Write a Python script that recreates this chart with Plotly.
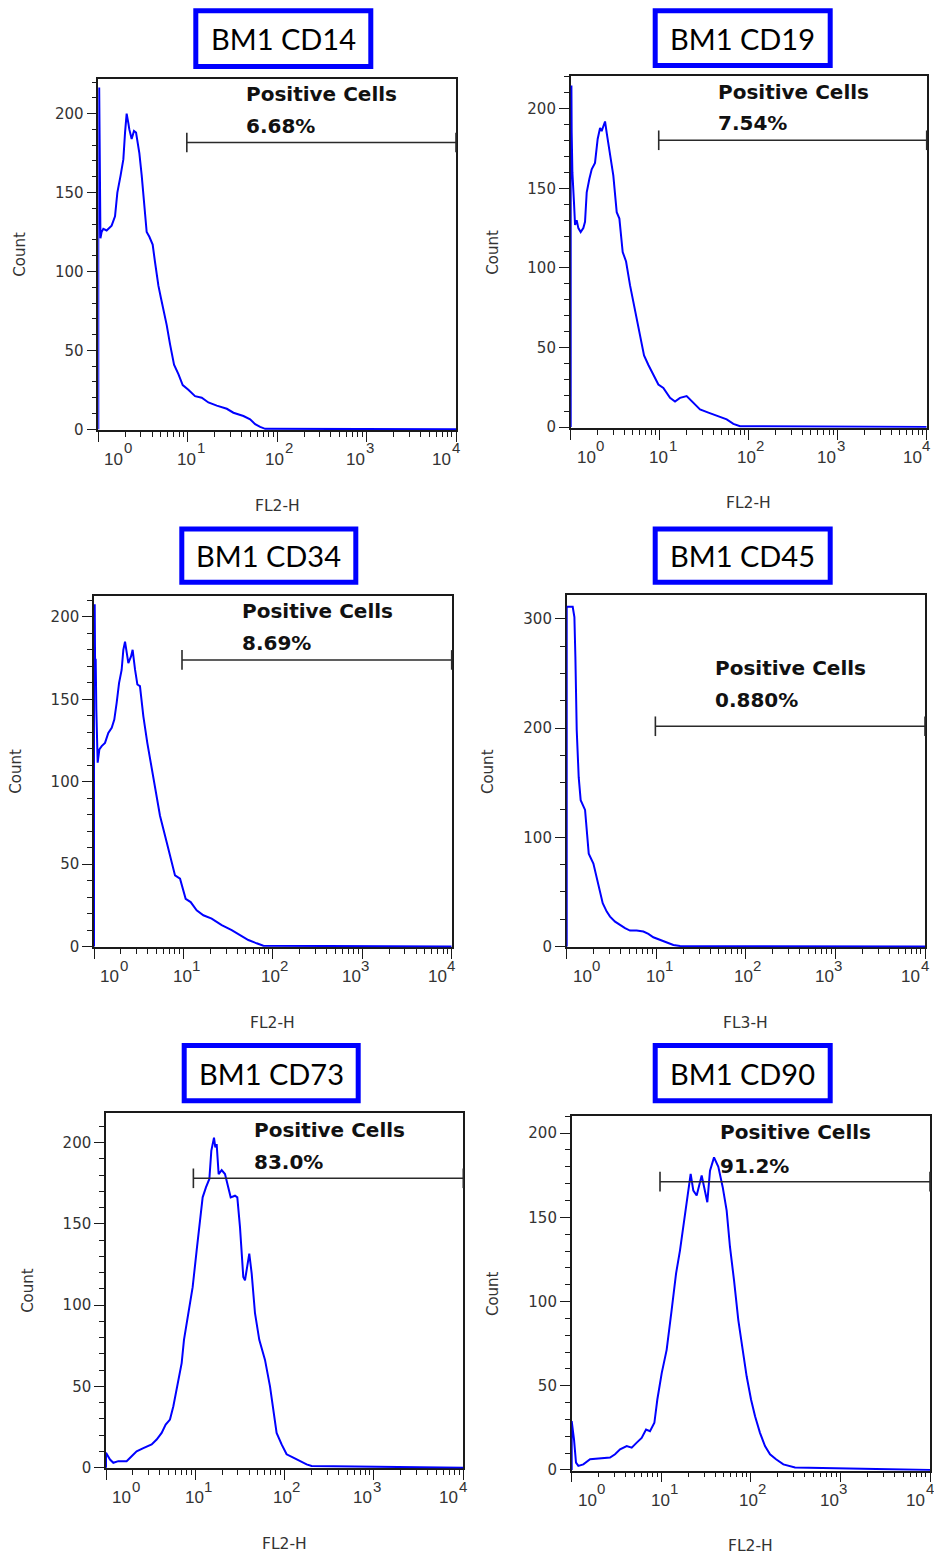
import numpy as np
import plotly.graph_objects as go

W, H = 934, 1566

# ---- data -------------------------------------------------------------
titles = ["BM1 CD14", "BM1 CD19", "BM1 CD34", "BM1 CD45", "BM1 CD73", "BM1 CD90"]
channels = ["FL2-H", "FL2-H", "FL2-H", "FL3-H", "FL2-H", "FL2-H"]
positive = ["6.68%", "7.54%", "8.69%", "0.880%", "83.0%", "91.2%"]
gate_name = "Positive Cells"

# histogram outlines: decade position (log10 of intensity) and event count
cd14_dec = [0, 0, 0.010, 0.012, 0.020, 0.024, 0.037, 0.056, 0.093, 0.149, 0.187, 0.213,
            0.250, 0.280, 0.299, 0.317, 0.336, 0.347, 0.373, 0.399, 0.422, 0.459, 0.485,
            0.511, 0.541, 0.571, 0.608, 0.634, 0.672, 0.701, 0.735, 0.765, 0.802, 0.847,
            0.896, 0.944, 1.007, 1.082, 1.157, 1.231, 1.325, 1.437, 1.511, 1.623, 1.698,
            1.754, 1.810, 1.866, 4.0]
cd14_cnt = [0, 216, 216, 184, 184, 121, 125, 127, 126, 129, 135, 150,
            161, 171, 188, 200, 194, 190, 184, 189, 188, 175, 161,
            142, 125, 122, 117, 106, 91, 83, 75, 66, 54, 41,
            35, 28, 25, 21, 20, 17, 15, 13, 10.5, 8.4, 6.3,
            3.2, 1.5, 0.3, 0]

cd19_dec = [0, 0, 0.008, 0.011, 0.019, 0.037, 0.049, 0.067, 0.086, 0.112, 0.142, 0.161,
            0.180, 0.210, 0.236, 0.273, 0.303, 0.330, 0.348, 0.367, 0.386, 0.404, 0.442,
            0.479, 0.517, 0.547, 0.584, 0.622, 0.667, 0.723, 0.760, 0.824, 0.873, 0.929,
            0.985, 1.041, 1.116, 1.172, 1.228, 1.303, 1.378, 1.453, 1.547, 1.659, 1.753,
            1.828, 1.903, 4.0]
cd19_cnt = [0, 214, 214, 185, 160, 141, 127, 130, 125, 122.5, 125, 129,
            147.5, 156, 162, 166, 181, 188, 186, 189, 192, 185, 170,
            158, 135, 131, 110, 104, 89, 72.5, 64, 45, 39, 33,
            26.7, 24.6, 18.3, 16, 18.3, 19.4, 15.2, 11, 9, 6.9, 4.8,
            2, 0.5, 0]

cd34_dec = [0, 0, 0.008, 0.012, 0.019, 0.026, 0.041, 0.060, 0.086, 0.123, 0.160, 0.198,
            0.227, 0.253, 0.280, 0.309, 0.328, 0.347, 0.384, 0.414, 0.432, 0.459, 0.485,
            0.514, 0.552, 0.596, 0.645, 0.693, 0.738, 0.813, 0.857, 0.906, 0.962, 1.025,
            1.081, 1.148, 1.223, 1.316, 1.428, 1.540, 1.633, 1.726, 1.819, 1.894, 4.0]
cd34_cnt = [0, 207, 207, 174, 174, 143.7, 111.6, 119.6, 121.6, 123.6, 129.6, 132.7,
            137.7, 147.7, 159.8, 167.8, 180, 185, 172, 176, 180, 168, 159,
            158, 139.7, 123.6, 107.5, 93.5, 79.4, 63.3, 53.3, 43.2, 41.2, 29,
            27, 22, 19, 17, 13, 10, 7, 4, 2, 0.5, 0]

cd45_dec = [0, 0, 0.067, 0.086, 0.097, 0.112, 0.134, 0.156, 0.205, 0.246, 0.298, 0.353,
            0.402, 0.447, 0.484, 0.540, 0.595, 0.651, 0.707, 0.781, 0.856, 0.912, 0.967,
            1.042, 1.116, 1.191, 1.265, 4.0]
cd45_cnt = [0, 311, 311, 301.5, 265, 198, 155, 134, 125, 85, 76, 58,
            39.6, 32, 27.4, 22.8, 19.8, 16.8, 14.6, 14.6, 13.7, 11.6, 8.5,
            6.1, 3.7, 1.5, 0.5, 0]

cd73_dec = [0, 0, 0.045, 0.082, 0.138, 0.231, 0.287, 0.343, 0.418, 0.511, 0.567, 0.623,
            0.668, 0.716, 0.754, 0.799, 0.847, 0.873, 0.922, 0.970, 1.015, 1.052, 1.082,
            1.119, 1.157, 1.179, 1.209, 1.224, 1.239, 1.261, 1.295, 1.332, 1.366, 1.396,
            1.444, 1.470, 1.500, 1.537, 1.556, 1.582, 1.604, 1.631, 1.668, 1.716, 1.780,
            1.836, 1.881, 1.910, 1.966, 2.022, 2.097, 2.172, 2.246, 2.302, 4.0]
cd73_cnt = [0, 9.2, 5, 3, 4, 4, 7, 10, 12, 14.3, 17.3, 21.4,
            26.5, 29.6, 37.8, 50, 64.3, 78.6, 95, 111, 133.7, 152, 166.3,
            172.4, 177.6, 194.9, 203, 197, 199, 180.6, 183, 180.6, 172.4, 166.3,
            167.3, 166.3, 148, 117.3, 115.3, 125.5, 131.6, 119.4, 95, 78.6, 66.3,
            50, 31.6, 21.4, 14.3, 8.2, 6.1, 4, 2, 1, 0]

cd90_dec = [0, 0, 0.026, 0.048, 0.074, 0.130, 0.205, 0.316, 0.428, 0.484, 0.540, 0.614,
            0.670, 0.726, 0.781, 0.830, 0.874, 0.923, 0.956, 1.005, 1.060, 1.116, 1.165,
            1.209, 1.247, 1.284, 1.328, 1.358, 1.395, 1.451, 1.488, 1.514, 1.544, 1.589,
            1.637, 1.686, 1.730, 1.767, 1.812, 1.860, 1.909, 1.953, 2.002, 2.047, 2.102,
            2.158, 2.214, 2.281, 2.363, 2.419, 2.493, 4.0]
cd90_cnt = [0, 29, 18, 4.3, 2.4, 3.3, 6.3, 6.7, 7.3, 9.3, 12.2, 14.2,
            13.2, 16.2, 19, 24, 23, 28, 41.8, 57.5, 71.3, 95, 116.6,
            130.4, 144.2, 158, 175.8, 165.9, 163, 174.8, 165.9, 159, 177.7, 185.6,
            180, 167.9, 154, 132.4, 112.7, 89, 71.3, 55.6, 41.8, 31.9, 22,
            14.2, 9.3, 6.3, 3.3, 2.4, 1.4, 0]

decades = [cd14_dec, cd19_dec, cd34_dec, cd45_dec, cd73_dec, cd90_dec]
counts = [cd14_cnt, cd19_cnt, cd34_cnt, cd45_cnt, cd73_cnt, cd90_cnt]

# marker gate: lower bound (intensity, upper bound is full scale) and level drawn
gate_low = [9.77, 9.75, 9.64, 9.77, 9.51, 9.68]
gate_level = [181.7, 180.2, 173.9, 201.6, 178.0, 171.2]

x_decade_vals = [1, 10, 100, 1000, 10000]
x_exponents = ["0", "1", "2", "3", "4"]

# ---- layout -----------------------------------------------------------
# plot frames in pixels: left, right, top, bottom
plot_px = [(98.3, 456.0, 79.0, 432.3), (570.7, 926.7, 76.7, 430.0),
           (94.0, 451.7, 599.0, 952.3), (566.7, 925.0, 598.3, 952.3),
           (106.0, 463.3, 1119.0, 1476.0), (571.7, 930.0, 1121.7, 1478.3)]
# title boxes in pixels (outer edge): left, right, top, bottom
box_px = [(193.3, 373.3, 8.3, 69.3), (652.7, 832.7, 8.3, 68.3),
          (179.3, 358.3, 529.3, 587.7), (652.7, 832.7, 529.3, 587.7),
          (181.7, 360.7, 1048.3, 1109.0), (652.7, 832.7, 1048.3, 1109.0)]
y_ranges = [[-0.5, 222.2], [-0.5, 220.4], [-0.5, 212.7], [-0.8, 321.5], [-0.5, 218.0], [-0.5, 210.2]]
y_major = [50, 50, 50, 100, 50, 50]
y_minor = [10, 10, 10, 25, 10, 10]
label_y = [212.6, 210.6, 203.6, 255.0, 208.0, 200.4]
pct_y = [192.0, 190.8, 183.9, 225.4, 187.8, 180.7]
label_dec = 1.63
# right end of the "10" part of each decade label relative to its tick (px)
dec_label_end = [25.0, 8.5, 7.0, -1.5, -5.0]

minor_x = [m * 10 ** d for d in range(4) for m in range(2, 10)]

AX = "#1a1a1a"
TXT = "#333333"
CURVE = "#0000ff"
GATE = "#2a2a2a"
BOX = "#0000ff"

fig = go.Figure()
layout = dict(width=W, height=H, margin=dict(l=0, r=0, t=0, b=0),
              paper_bgcolor="white", plot_bgcolor="white", showlegend=False)
annotations = []
shapes = []

for i in range(6):
    n = i + 1
    xa = "x" if n == 1 else f"x{n}"
    ya = "y" if n == 1 else f"y{n}"
    x0, x1, y0, y1 = plot_px[i]

    fig.add_trace(go.Scatter(
        x=10 ** np.array(decades[i]), y=counts[i], mode="lines",
        line=dict(color=CURVE, width=2), xaxis=xa, yaxis=ya, hoverinfo="skip"))
    fig.add_trace(go.Scatter(
        x=[gate_low[i], 10000], y=[gate_level[i], gate_level[i]], mode="lines+markers",
        line=dict(color=GATE, width=1.5),
        marker=dict(symbol="line-ns-open", size=14, line=dict(color=GATE, width=1.6)),
        cliponaxis=False, xaxis=xa, yaxis=ya, hoverinfo="skip"))

    common = dict(showline=True, linecolor=AX, linewidth=1.5, mirror=True,
                  ticks="outside", tickcolor=AX, tickwidth=1.3, ticklen=10,
                  showgrid=False, zeroline=False, layer="below traces", fixedrange=True)
    layout["xaxis" if n == 1 else f"xaxis{n}"] = dict(
        domain=[x0 / W, x1 / W], anchor=ya, type="log", range=[0, 4],
        tickmode="array", tickvals=x_decade_vals, showticklabels=False,
        minor=dict(tickmode="array", tickvals=minor_x, ticks="outside", ticklen=5,
                   tickcolor=AX, tickwidth=1.2),
        **common)
    layout["yaxis" if n == 1 else f"yaxis{n}"] = dict(
        domain=[1 - y1 / H, 1 - y0 / H], anchor=xa, range=y_ranges[i],
        tickmode="linear", tick0=0, dtick=y_major[i],
        minor=dict(tickmode="linear", tick0=0, dtick=y_minor[i], ticks="outside",
                   ticklen=5, tickcolor=AX, tickwidth=1.2),
        tickfont=dict(family="DejaVu Sans", size=15, color=TXT),
        ticklabelstandoff=0, **common)

    # decade labels 10^n with a near full-size exponent
    for d in range(5):
        annotations.append(dict(
            text="10", xref=xa, x=d, yref=f"{ya} domain", y=0,
            xanchor="right", yanchor="middle", xshift=dec_label_end[d], yshift=-29.4,
            borderpad=0, borderwidth=0, showarrow=False,
            font=dict(family="Liberation Sans", size=17, color=TXT)))
        annotations.append(dict(
            text=x_exponents[d], xref=xa, x=d, yref=f"{ya} domain", y=0,
            xanchor="left", yanchor="middle", xshift=dec_label_end[d] + 0.5, yshift=-17.7,
            borderpad=0, borderwidth=0, showarrow=False,
            font=dict(family="Liberation Sans", size=15, color=TXT)))

    annotations.append(dict(
        text="Count", xref=f"{xa} domain", x=0, xshift=-78, yref=f"{ya} domain", y=0.5,
        textangle=-90, xanchor="center", yanchor="middle", showarrow=False,
        font=dict(family="DejaVu Sans", size=15, color=TXT)))
    annotations.append(dict(
        text=channels[i], xref=f"{xa} domain", x=0.5, yref=f"{ya} domain", y=0,
        yshift=-75.5, xanchor="center", yanchor="middle", showarrow=False,
        font=dict(family="DejaVu Sans", size=15.5, color=TXT)))

    # gate annotation
    annotations.append(dict(
        text=gate_name, xref=xa, x=label_dec, yref=ya, y=label_y[i],
        xanchor="left", yanchor="middle", showarrow=False,
        font=dict(family="DejaVu Sans", size=20, color="#111111", weight="bold")))
    annotations.append(dict(
        text=positive[i], xref=xa, x=label_dec, yref=ya, y=pct_y[i],
        xanchor="left", yanchor="middle", showarrow=False,
        font=dict(family="DejaVu Sans", size=20, color="#111111", weight="bold")))

    # title box
    bx0, bx1, by0, by1 = box_px[i]
    shapes.append(dict(type="rect", xref="paper", yref="paper",
                       x0=(bx0 + 2.5) / W, x1=(bx1 - 2.5) / W,
                       y0=1 - (by1 - 2.5) / H, y1=1 - (by0 + 2.5) / H,
                       line=dict(color=BOX, width=5), fillcolor="white"))
    annotations.append(dict(
        text=titles[i], xref="paper", yref="paper",
        x=(bx0 + bx1) / 2 / W, y=1 - (by0 + by1) / 2 / H,
        xanchor="center", yanchor="middle", showarrow=False,
        font=dict(family="Lato", size=29, color="black")))

layout["annotations"] = annotations
layout["shapes"] = shapes
fig.update_layout(**layout)
fig.write_html("out.html")
